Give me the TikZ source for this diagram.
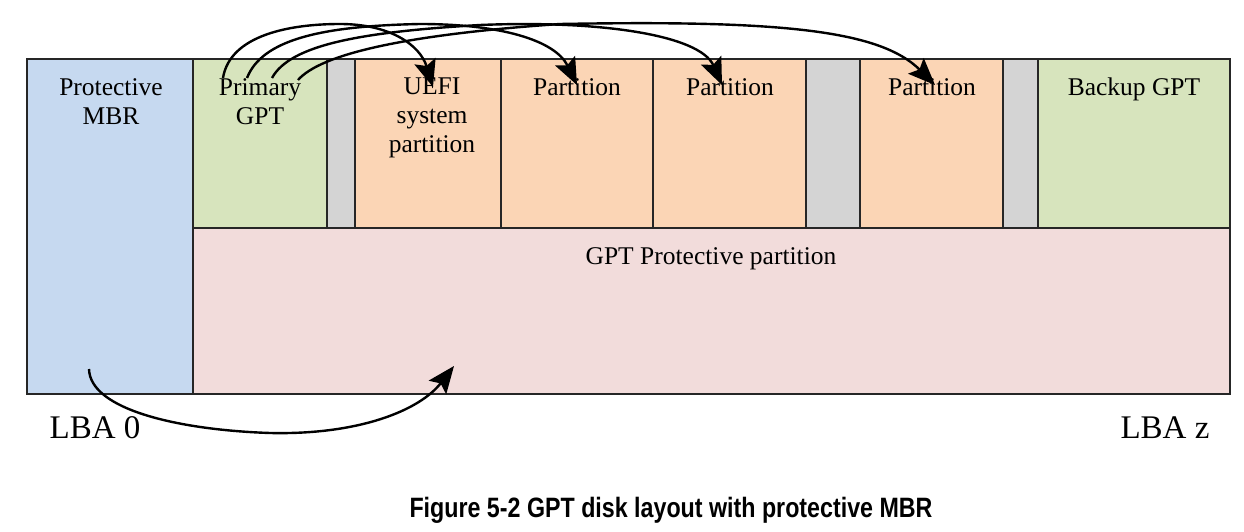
\documentclass[tikz,border=0pt]{standalone}
\usepackage{fontspec}
\setmainfont{Liberation Serif}
\newfontfamily\capfont{Liberation Sans}
\usetikzlibrary{arrows.meta}
\definecolor{mbrblue}{HTML}{C6D9F0}
\definecolor{gptgreen}{HTML}{D7E4BD}
\definecolor{partorange}{HTML}{FBD5B5}
\definecolor{gapgray}{HTML}{D4D4D4}
\definecolor{protpink}{HTML}{F2DCDB}
\tikzset{
  blk/.style={draw=black!85, line width=1.8pt, anchor=north west, inner sep=0pt, outer sep=0pt},
  lbl/.style={font=\fontsize{25.5}{29}\selectfont, align=center, anchor=north, inner sep=0pt},
  lba/.style={font=\fontsize{33}{36}\selectfont, inner sep=0pt},
  ptr/.style={line width=2.4pt, -{Stealth[length=27pt,width=22pt,inset=5pt]}},
}
\begin{document}
\begin{tikzpicture}[x=1pt,y=-1pt]
\useasboundingbox (0,0) rectangle (1244,532);
% boxes
\node[blk, fill=protpink, minimum width=1037pt, minimum height=166pt] (prot) at (193,228) {};
\node[blk, fill=mbrblue, minimum width=166pt, minimum height=335pt] (mbr) at (27,59) {};
\node[blk, fill=gptgreen, minimum width=134pt, minimum height=169pt] (pgpt) at (193,59) {};
\node[blk, fill=gapgray, minimum width=28pt, minimum height=169pt] (g1) at (327,59) {};
\node[blk, fill=partorange, minimum width=146pt, minimum height=169pt] (uefi) at (355,59) {};
\node[blk, fill=partorange, minimum width=152pt, minimum height=169pt] (p1) at (501,59) {};
\node[blk, fill=partorange, minimum width=153pt, minimum height=169pt] (p2) at (653,59) {};
\node[blk, fill=gapgray, minimum width=54pt, minimum height=169pt] (g2) at (806,59) {};
\node[blk, fill=partorange, minimum width=143pt, minimum height=169pt] (p3) at (860,59) {};
\node[blk, fill=gapgray, minimum width=35pt, minimum height=169pt] (g3) at (1003,59) {};
\node[blk, fill=gptgreen, minimum width=192pt, minimum height=169pt] (bgpt) at (1038,59) {};
% labels
\node[lbl] (tmbr) at (111,78) {Protective\\MBR};
\node[lbl] (tpgpt) at (260,78) {Primary\\GPT};
\node[lbl] (tuefi) at (432,78) {UEFI\\system\\partition};
\node[lbl] (tp1) at (577,78) {Partition};
\node[lbl] (tp2) at (730,78) {Partition};
\node[lbl] (tp3) at (932,78) {Partition};
\node[lbl] (tbgpt) at (1134,78) {Backup GPT};
\node[lbl] (tprot) at (711,247) {GPT Protective partition};
\node[lba] (lba0) at (95,428) {LBA 0};
\node[lba] (lbaz) at (1165,428) {LBA z};
\node[inner sep=0pt] (cap) at (671,510) {\scalebox{0.83}[1]{\capfont\bfseries\fontsize{28}{30}\selectfont Figure 5-2 GPT disk layout with protective MBR}};
% arrow endpoints
\coordinate (s1) at (223,78);
\coordinate (s2) at (247,78);
\coordinate (s3) at (272,78);
\coordinate (s4) at (298,80);
\coordinate (e1) at (433,87);
\coordinate (e2) at (577,85);
\coordinate (e3) at (722,85);
\coordinate (e4) at (935,85);
\coordinate (ms) at (89,369);
\coordinate (me) at (454,366);
% arrows
\draw[ptr] (s1) .. controls (230,35) and (290,24) .. (340,24) .. controls (390,24) and (420,45) .. (e1);
\draw[ptr] (s2) .. controls (262,40) and (320,26) .. (420,24) .. controls (500,24) and (555,40) .. (e2);
\draw[ptr] (s3) .. controls (290,45) and (360,32) .. (480,25) .. controls (600,20) and (700,35) .. (e3);
\draw[ptr] (s4) .. controls (320,55) and (400,35) .. (560,24) .. controls (780,20) and (880,30) .. (e4);
\draw[ptr] (ms) .. controls (90,410) and (180,430) .. (270,433) .. controls (360,435) and (420,410) .. (me);
\end{tikzpicture}
\end{document}
